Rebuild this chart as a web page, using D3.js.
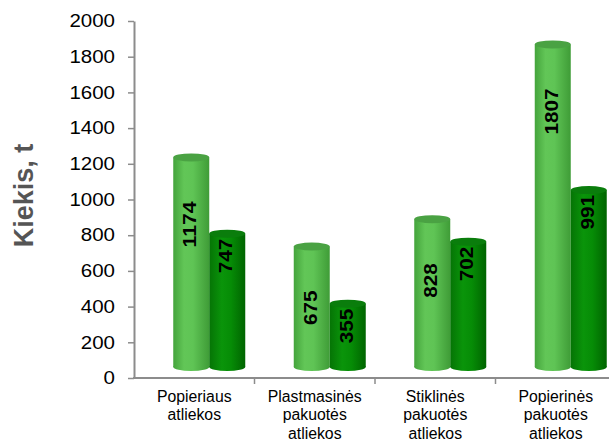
<!DOCTYPE html>
<html>
<head>
<meta charset="utf-8">
<script src="https://cdnjs.cloudflare.com/ajax/libs/d3/7.8.5/d3.min.js"></script>
<style>
body { margin: 0; background: #fff; }
svg { display: block; font-family: "Liberation Sans", Arial, sans-serif; }
</style>
</head>
<body>
<svg width="609" height="441"></svg>
<script>
// data
var categories = ["Popieriaus atliekos", "Plastmasinės pakuotės atliekos", "Stiklinės pakuotės atliekos", "Popierinės pakuotės atliekos"];
var categoryLines = [["Popieriaus", "atliekos"], ["Plastmasinės", "pakuotės", "atliekos"], ["Stiklinės", "pakuotės", "atliekos"], ["Popierinės", "pakuotės", "atliekos"]];
var seriesNames = ["light", "dark"];
var valuesLight = [1174, 675, 828, 1807];
var valuesDark = [747, 355, 702, 991];
var yTicks = [0, 200, 400, 600, 800, 1000, 1200, 1400, 1600, 1800, 2000];
var yTitle = "Kiekis, t";

var svg = d3.select('svg');

var x0 = d3.scaleBand().domain(categories).range([134, 616]);
var bw = x0.bandwidth();
var depthX = 15, depthY = 11, barW = 36;
var x1 = d3.scaleBand().domain(seriesNames)
    .range([bw / 2 + depthX - barW, bw / 2 + depthX + barW]);
var y = d3.scaleLinear().domain([0, 2000]).range([378, 21]);

// gradients
var defs = svg.append('defs');
function grad(id, stops) {
    var g = defs.append('linearGradient').attr('id', id)
        .attr('x1', '0%').attr('x2', '100%').attr('y1', '0%').attr('y2', '0%');
    stops.forEach(function(s){
        g.append('stop').attr('offset', s[0]).attr('stop-color', s[1]);
    });
}
grad('gLight', [['0%', '#44a43c'], ['30%', '#62c657'], ['55%', '#5fc455'], ['100%', '#3f9c37']]);
grad('gDark', [['0%', '#057405'], ['35%', '#0a940a'], ['60%', '#068c06'], ['100%', '#006400']]);
var topColor = {light: '#4aa243', dark: '#0a7d0c'};
var bodyFill = {light: 'url(#gLight)', dark: 'url(#gDark)'};

// axes
var yAxis = svg.append('g')
    .attr('transform', 'translate(134,0)')
    .call(d3.axisLeft(y).tickValues(yTicks).tickFormat(d3.format('d'))
        .tickSize(6).tickPadding(13).tickSizeOuter(0));
yAxis.attr('font-family', null);
yAxis.select('.domain').attr('stroke', '#8c8c8c').attr('stroke-width', 2);
yAxis.selectAll('.tick line').attr('stroke', '#8c8c8c').attr('stroke-width', 1.5);
yAxis.selectAll('.tick text')
    .attr('font-size', 18)
    .attr('fill', '#000')
    .attr('textLength', function(d){ return String(d).length * 11.4; })
    .attr('lengthAdjust', 'spacingAndGlyphs');

var xAxisY = y(0);
svg.append('line')
    .attr('x1', 133).attr('x2', 616)
    .attr('y1', xAxisY).attr('y2', xAxisY)
    .attr('stroke', '#8c8c8c').attr('stroke-width', 2);
svg.selectAll('.xtick')
    .data(categories)
    .enter()
    .append('line')
    .attr('class', 'xtick')
    .attr('x1', function(d){ return x0(d) + bw; })
    .attr('x2', function(d){ return x0(d) + bw; })
    .attr('y1', xAxisY).attr('y2', xAxisY + 6)
    .attr('stroke', '#8c8c8c').attr('stroke-width', 1.5);

// category labels
svg.selectAll('.catlabel')
    .data(categories)
    .enter()
    .append('text')
    .attr('class', 'catlabel')
    .attr('text-anchor', 'middle')
    .attr('font-size', 15.8)
    .attr('fill', '#000')
    .each(function(d, i){
        var t = d3.select(this);
        categoryLines[i].forEach(function(line, j){
            t.append('tspan')
                .attr('x', x0(d) + bw / 2)
                .attr('y', 402 + j * 18.3)
                .text(line);
        });
    });

// y title
svg.append('text')
    .attr('transform', 'translate(33,' + ((y(0) + y(2000)) / 2 - 4) + ') rotate(-90)')
    .attr('text-anchor', 'middle')
    .attr('font-size', 27)
    .attr('font-weight', 'bold')
    .attr('fill', '#555')
    .text(yTitle);

// bars
var rows = categories.map(function(c, i){
    return [{cat: c, s: 'light', v: valuesLight[i]}, {cat: c, s: 'dark', v: valuesDark[i]}];
});
var bars = [].concat.apply([], rows);
var ry = 4;

var cyl = svg.selectAll('.cyl')
    .data(bars)
    .enter()
    .append('g')
    .attr('class', 'cyl')
    .attr('transform', function(d){ return 'translate(' + (x0(d.cat) + x1(d.s)) + ',0)'; });

cyl.append('ellipse')
    .attr('cx', barW / 2)
    .attr('cy', y(0) - depthY)
    .attr('rx', barW / 2).attr('ry', ry)
    .attr('fill', function(d){ return bodyFill[d.s]; });

cyl.append('rect')
    .attr('x', 0)
    .attr('width', barW)
    .attr('y', function(d){ return y(d.v) - depthY; })
    .attr('height', function(d){ return y(0) - y(d.v); })
    .attr('fill', function(d){ return bodyFill[d.s]; });

cyl.append('ellipse')
    .attr('cx', barW / 2)
    .attr('cy', function(d){ return y(d.v) - depthY; })
    .attr('rx', barW / 2).attr('ry', ry)
    .attr('fill', function(d){ return topColor[d.s]; });

cyl.append('text')
    .attr('transform', function(d){
        var off = d.s === 'light' ? 44 : 5;
        return 'translate(' + (barW / 2 - 1) + ',' + (y(d.v) - depthY + off) + ') rotate(-90)';
    })
    .attr('text-anchor', 'end')
    .attr('dominant-baseline', 'central')
    .attr('font-size', 18)
    .attr('font-weight', 'bold')
    .attr('fill', '#000')
    .attr('textLength', function(d){ return String(d.v).length * 11.5; })
    .attr('lengthAdjust', 'spacingAndGlyphs')
    .text(function(d){ return d.v; });
</script>
</body>
</html>
